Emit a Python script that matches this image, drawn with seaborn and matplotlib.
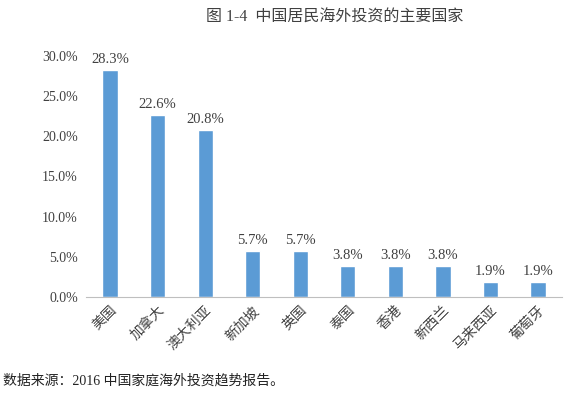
import pandas as pd
import seaborn as sns
import matplotlib.pyplot as plt
from matplotlib.ticker import PercentFormatter

countries = ["美国", "加拿大", "澳大利亚", "新加坡", "英国", "泰国", "香港", "新西兰", "马来西亚", "葡萄牙"]
shares = [28.3, 22.6, 20.8, 5.7, 5.7, 3.8, 3.8, 3.8, 1.9, 1.9]
title = "图 1-4  中国居民海外投资的主要国家"
source = "数据来源：2016 中国家庭海外投资趋势报告。"

sns.set_style("white")
plt.rcParams["font.family"] = ["Liberation Serif", "Noto Sans CJK SC"]

df = pd.DataFrame({"country": countries, "share": shares})

fig = plt.figure(figsize=(5.67, 3.93), dpi=100)
ax = fig.add_axes([0.152, 0.2443, 0.839, 0.6132])
sns.barplot(data=df, x="country", y="share", color="#5B9BD5", saturation=1,
            width=0.32, ax=ax)

ax.set_ylim(0, 30)
ax.set_yticks([0, 5, 10, 15, 20, 25, 30])
ax.yaxis.set_major_formatter(PercentFormatter(decimals=1))
ax.set_xlabel("")
ax.set_ylabel("")
ax.tick_params(axis="y", labelsize=10, colors="#404040", length=0, pad=6)
ax.tick_params(axis="x", length=0, pad=5)
for lbl in ax.get_xticklabels():
    lbl.set_rotation(45)
    lbl.set_ha("right")
    lbl.set_va("top")
    lbl.set_rotation_mode("anchor")
    lbl.set_fontsize(10)
    lbl.set_color("#404040")

for side in ["top", "right", "left"]:
    ax.spines[side].set_visible(False)
ax.spines["bottom"].set_color("#bfbfbf")

for i, v in enumerate(shares):
    ax.text(i, v + 0.5, f"{v:.1f}%", ha="center", va="bottom", fontsize=10.5, color="#404040")

fig.text(0.59, 0.955, title, ha="center", va="center", fontsize=11.5, color="#404040")
fig.text(0.005, 0.03, source, ha="left", va="center", fontsize=10, color="#222222")

fig.savefig("out.png", dpi=100)
